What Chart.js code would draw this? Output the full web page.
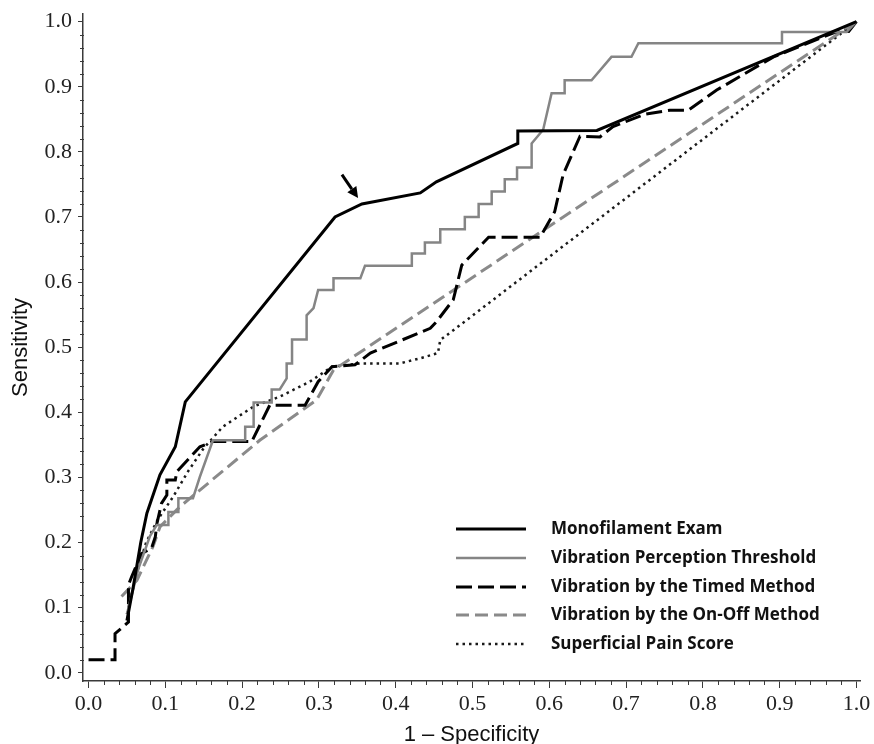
<!DOCTYPE html>
<html>
<head>
<meta charset="utf-8">
<script src="https://cdn.jsdelivr.net/npm/chart.js@4.4.0/dist/chart.umd.min.js"></script>
<style>
  html, body { margin: 0; padding: 0; background: #fff; overflow: hidden; }
</style>
</head>
<body>
<canvas id="roc" width="874" height="744"></canvas>
<script>
// ROC curves: x = 1 - specificity, y = sensitivity
const monoFpr  = [0.050, 0.058, 0.068, 0.076, 0.093, 0.113, 0.126, 0.321, 0.356, 0.432, 0.453, 0.559, 0.559, 0.662, 1.000];
const monoSens = [0.080, 0.130, 0.200, 0.245, 0.304, 0.347, 0.416, 0.700, 0.720, 0.737, 0.754, 0.813, 0.832, 0.833, 1.000];

const vptFpr  = [0.050, 0.065, 0.080, 0.089, 0.104, 0.104, 0.117, 0.117, 0.136, 0.145, 0.162, 0.204, 0.204, 0.215, 0.215,
                 0.2385, 0.2385, 0.249, 0.258, 0.258, 0.265, 0.265, 0.284, 0.284, 0.293, 0.299, 0.319, 0.319, 0.354, 0.360,
                 0.421, 0.421, 0.438, 0.438, 0.458, 0.458, 0.490, 0.490, 0.508, 0.508, 0.525, 0.525, 0.542, 0.542, 0.558,
                 0.558, 0.577, 0.577, 0.592, 0.603, 0.620, 0.620, 0.655, 0.681, 0.707, 0.716, 0.903, 0.903, 0.987, 1.000];
const vptSens = [0.090, 0.160, 0.210, 0.227, 0.227, 0.247, 0.247, 0.268, 0.268, 0.301, 0.357, 0.357, 0.378, 0.378, 0.415,
                 0.415, 0.435, 0.435, 0.452, 0.475, 0.475, 0.512, 0.512, 0.549, 0.560, 0.588, 0.588, 0.606, 0.606, 0.625,
                 0.625, 0.644, 0.644, 0.661, 0.661, 0.681, 0.681, 0.700, 0.700, 0.720, 0.720, 0.739, 0.739, 0.758, 0.758,
                 0.776, 0.776, 0.813, 0.834, 0.890, 0.890, 0.910, 0.910, 0.946, 0.946, 0.967, 0.967, 0.984, 0.984, 1.000];

const timedFpr  = [0.000, 0.0345, 0.0345, 0.052, 0.052, 0.056, 0.069, 0.082, 0.087, 0.089, 0.095, 0.102, 0.102, 0.113, 0.115,
                   0.145, 0.162, 0.2125, 0.236, 0.282, 0.299, 0.317, 0.347, 0.367, 0.445, 0.453, 0.475, 0.486, 0.499, 0.521,
                   0.588, 0.607, 0.618, 0.640, 0.666, 0.683, 0.725, 0.757, 0.781, 0.818, 0.892, 0.979, 0.990, 1.000];
const timedSens = [0.020, 0.020, 0.060, 0.078, 0.135, 0.147, 0.183, 0.191, 0.209, 0.229, 0.260, 0.273, 0.296, 0.296, 0.309,
                   0.347, 0.355, 0.355, 0.411, 0.411, 0.447, 0.470, 0.473, 0.491, 0.529, 0.539, 0.573, 0.626, 0.642, 0.669,
                   0.669, 0.708, 0.765, 0.824, 0.823, 0.839, 0.858, 0.864, 0.864, 0.895, 0.946, 0.987, 0.985, 1.000];

const onOffFpr  = [0.043, 0.063, 0.084, 0.093, 0.119, 0.223, 0.297, 0.319, 1.000];
const onOffSens = [0.117, 0.142, 0.194, 0.224, 0.255, 0.357, 0.419, 0.465, 1.000];

const painFpr  = [0.050, 0.062, 0.075, 0.090, 0.110, 0.130, 0.150, 0.175, 0.215, 0.249, 0.288, 0.317, 0.354, 0.405, 0.432,
                  0.455, 0.458, 0.475, 1.000];
const painSens = [0.090, 0.150, 0.200, 0.235, 0.270, 0.310, 0.345, 0.378, 0.409, 0.424, 0.447, 0.470, 0.475, 0.475, 0.483,
                  0.491, 0.511, 0.526, 1.000];

const seriesNames = [
  "Monofilament Exam",
  "Vibration Perception Threshold",
  "Vibration by the Timed Method",
  "Vibration by the On-Off Method",
  "Superficial Pain Score"
];

const xTicks = [0.0, 0.1, 0.2, 0.3, 0.4, 0.5, 0.6, 0.7, 0.8, 0.9, 1.0];
const yTicks = [0.0, 0.1, 0.2, 0.3, 0.4, 0.5, 0.6, 0.7, 0.8, 0.9, 1.0];
const minorStep = 0.02;

// arrow pointing at the monofilament cut-off (data units)
const arrowTail = [0.330, 0.765];
const arrowTip  = [0.351, 0.729];

const toPoints = (xs, ys) => xs.map((x, i) => ({ x: x, y: ys[i] }));

const AXIS_COLOR = "#3a3a3a";

// minor ticks, arrow and the in-plot legend
const extras = {
  id: "extras",
  afterDraw(chart) {
    const ctx = chart.ctx;
    const xs = chart.scales.x, ys = chart.scales.y;
    const area = chart.chartArea;
    ctx.save();

    // minor ticks
    ctx.strokeStyle = AXIS_COLOR;
    ctx.lineWidth = 1;
    ctx.setLineDash([]);
    for (let v = 0; v <= 1.0001; v += minorStep) {
      const r = Math.round(v * 100) / 100;
      if (Math.abs(r * 10 - Math.round(r * 10)) < 1e-6) continue;
      const px = Math.round(xs.getPixelForValue(r)) + 0.5;
      ctx.beginPath(); ctx.moveTo(px, area.bottom); ctx.lineTo(px, area.bottom + 4); ctx.stroke();
      const py = Math.round(ys.getPixelForValue(r)) + 0.5;
      ctx.beginPath(); ctx.moveTo(area.left - 3, py); ctx.lineTo(area.left + 1, py); ctx.stroke();
    }

    // arrow
    const tx = xs.getPixelForValue(arrowTail[0]), ty = ys.getPixelForValue(arrowTail[1]);
    const hx = xs.getPixelForValue(arrowTip[0]),  hy = ys.getPixelForValue(arrowTip[1]);
    const ang = Math.atan2(hy - ty, hx - tx);
    const headLen = 11, headW = 5.5;
    const bx = hx - headLen * Math.cos(ang), by = hy - headLen * Math.sin(ang);
    ctx.strokeStyle = "#000";
    ctx.fillStyle = "#000";
    ctx.lineWidth = 3;
    ctx.beginPath(); ctx.moveTo(tx, ty); ctx.lineTo(bx, by); ctx.stroke();
    ctx.beginPath();
    ctx.moveTo(hx, hy);
    ctx.lineTo(bx + headW * Math.sin(ang), by - headW * Math.cos(ang));
    ctx.lineTo(bx - headW * Math.sin(ang), by + headW * Math.cos(ang));
    ctx.closePath(); ctx.fill();

    // legend
    const lx0 = 456, lx1 = 526, textX = 551, rowY = 529, rowStep = 28.75;
    ctx.font = "bold 17px 'Open Sans'";
    ctx.textBaseline = "middle";
    ctx.textAlign = "left";
    chart.data.datasets.forEach((ds, i) => {
      const y = Math.round(rowY + i * rowStep);
      ctx.strokeStyle = ds.borderColor;
      ctx.lineWidth = ds.borderWidth;
      ctx.setLineDash(ds.borderDash || []);
      ctx.lineCap = "butt";
      ctx.beginPath(); ctx.moveTo(lx0, y); ctx.lineTo(lx1, y); ctx.stroke();
      ctx.setLineDash([]);
      ctx.fillStyle = "#111";
      ctx.fillText(ds.label, textX, y);
    });
    ctx.restore();
  }
};

const tickFont = { family: "'Liberation Serif', 'Times New Roman', serif", size: 22 };
const titleFont = { family: "'Liberation Sans', Arial, sans-serif", size: 22, lineHeight: 1 };

new Chart(document.getElementById("roc"), {
  type: "line",
  data: {
    datasets: [
      { label: seriesNames[0], data: toPoints(monoFpr, monoSens),   borderColor: "#000000", borderWidth: 3,   borderDash: [] },
      { label: seriesNames[1], data: toPoints(vptFpr, vptSens),     borderColor: "#858585", borderWidth: 2.5, borderDash: [] },
      { label: seriesNames[2], data: toPoints(timedFpr, timedSens), borderColor: "#000000", borderWidth: 3,   borderDash: [16, 6] },
      { label: seriesNames[3], data: toPoints(onOffFpr, onOffSens), borderColor: "#8a8a8a", borderWidth: 3,   borderDash: [13, 6] },
      { label: seriesNames[4], data: toPoints(painFpr, painSens),   borderColor: "#1a1a1a", borderWidth: 2.5, borderDash: [2.5, 4] }
    ]
  },
  options: {
    responsive: false,
    animation: false,
    devicePixelRatio: 1,
    layout: { padding: { top: 14, right: 14, left: 0, bottom: 0 } },
    elements: { point: { radius: 0 }, line: { tension: 0, borderJoinStyle: "miter" } },
    plugins: { legend: { display: false }, tooltip: { enabled: false } },
    scales: {
      x: {
        type: "linear",
        min: -0.0072,
        max: 1.0046,
        afterBuildTicks: (s) => { s.ticks = xTicks.map(v => ({ value: v })); },
        afterFit: (s) => { s.height = 63; s.paddingLeft = 0; s.paddingRight = 0; },
        ticks: { font: tickFont, color: "#222", padding: 3, maxRotation: 0, autoSkip: false,
                 callback: (v) => Number(v).toFixed(1) },
        grid: { drawOnChartArea: false, drawTicks: true, tickLength: 7, color: AXIS_COLOR, lineWidth: 1 },
        border: { display: true, color: AXIS_COLOR, width: 1.5 },
        title: { display: true, text: "1 \u2013 Specificity", font: titleFont, color: "#111", padding: { top: 0, bottom: -2 } }
      },
      y: {
        type: "linear",
        min: -0.0127,
        max: 1.0118,
        afterBuildTicks: (s) => { s.ticks = yTicks.map(v => ({ value: v })); },
        afterFit: (s) => { s.width = 83; s.paddingTop = 0; s.paddingBottom = 0; },
        ticks: { font: tickFont, color: "#222", padding: 6, autoSkip: false,
                 callback: (v) => Number(v).toFixed(1) },
        grid: { drawOnChartArea: false, drawTicks: true, tickLength: 5, color: AXIS_COLOR, lineWidth: 1 },
        border: { display: true, color: AXIS_COLOR, width: 1.5 },
        title: { display: true, text: "Sensitivity", font: titleFont, color: "#111", padding: { top: 10, bottom: 0 } }
      }
    }
  },
  plugins: [extras]
});
</script>
</body>
</html>
